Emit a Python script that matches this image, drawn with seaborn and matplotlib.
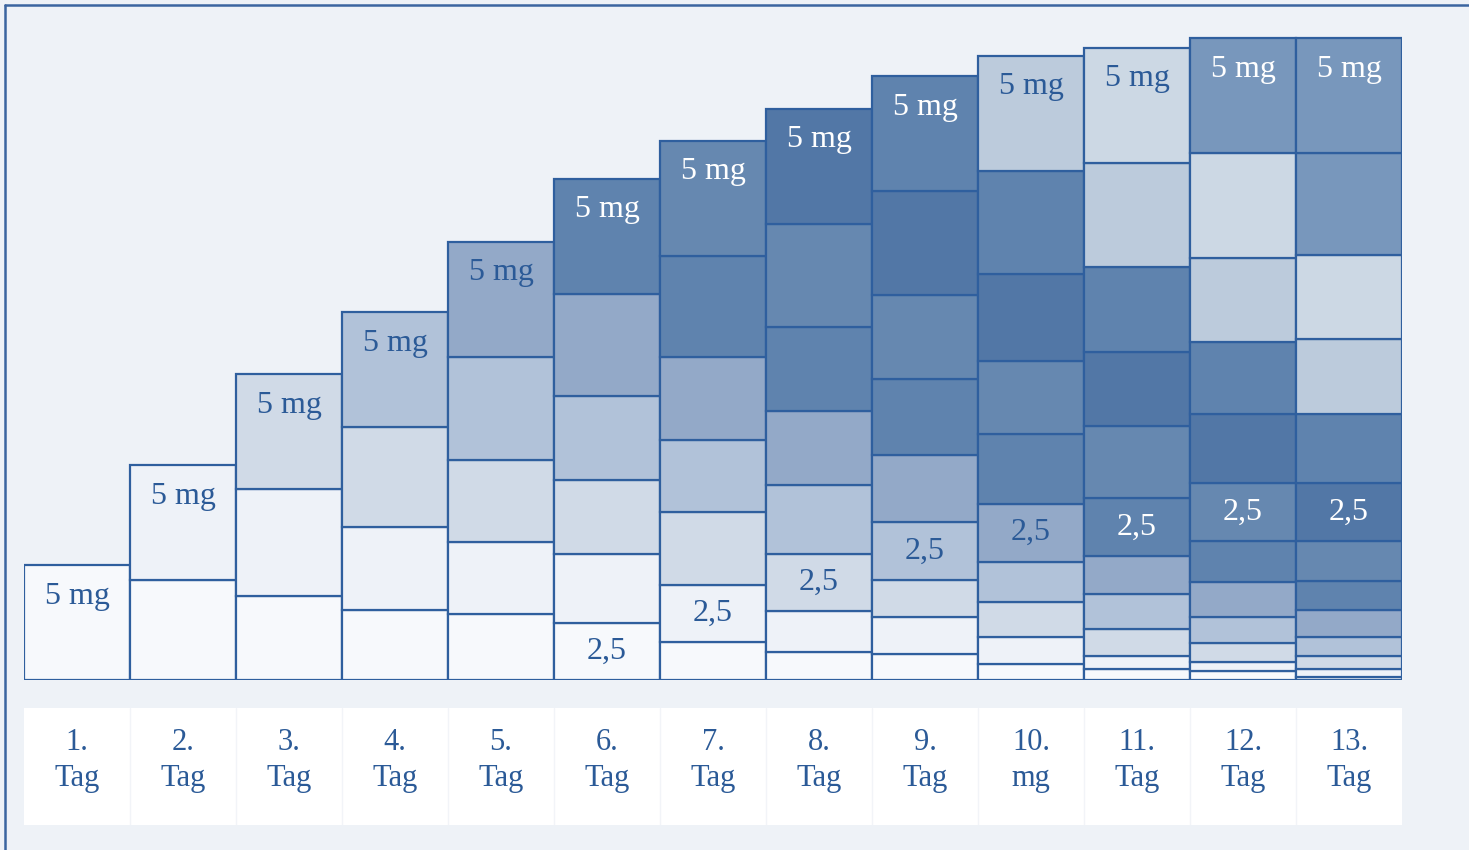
import numpy as np
import pandas as pd
import matplotlib
matplotlib.use("Agg")
import matplotlib.pyplot as plt
import seaborn as sns
from matplotlib.lines import Line2D

# Remaining amount (mg) of each daily 5 mg dose, per day; first entry = dose of day 1
tag_01 = [5.0]
tag_02 = [4.35, 5.0]
tag_03 = [3.65, 4.65, 5.0]
tag_04 = [3.05, 3.6, 4.35, 5.0]
tag_05 = [2.85, 3.15, 3.55, 4.5, 5.0]
tag_06 = [2.5, 3.0, 3.2, 3.65, 4.45, 5.0]
tag_07 = [1.65, 2.5, 3.15, 3.15, 3.6, 4.4, 5.0]
tag_08 = [1.2, 1.8, 2.5, 3.0, 3.2, 3.65, 4.5, 5.0]
tag_09 = [1.15, 1.6, 1.6, 2.5, 2.95, 3.3, 3.65, 4.5, 5.0]
tag_10 = [0.7, 1.15, 1.55, 1.75, 2.5, 3.05, 3.15, 3.8, 4.5, 5.0]
tag_11 = [0.5, 0.55, 1.15, 1.55, 1.65, 2.5, 3.15, 3.2, 3.7, 4.55, 5.0]
tag_12 = [0.4, 0.4, 0.8, 1.15, 1.5, 1.8, 2.5, 3.0, 3.15, 3.65, 4.55, 5.0]
tag_13 = [0.15, 0.35, 0.55, 0.8, 1.2, 1.25, 1.75, 2.5, 3.0, 3.3, 3.65, 4.4, 5.0]

day_labels = ["1.\nTag", "2.\nTag", "3.\nTag", "4.\nTag", "5.\nTag", "6.\nTag",
              "7.\nTag", "8.\nTag", "9.\nTag", "10.\nmg", "11.\nTag", "12.\nTag",
              "13.\nTag"]

# Fill colour of each dose (dose of day 1 ... day 13)
dose_colors = ["#f7f9fc", "#eef2f8", "#d0dae7", "#b1c2d9", "#93a9c8", "#5f83ae",
               "#6688b0", "#5277a6", "#5f83ae", "#bccbdc", "#ccd8e4", "#7897bc",
               "#7897bc"]

days = [tag_01, tag_02, tag_03, tag_04, tag_05, tag_06, tag_07,
        tag_08, tag_09, tag_10, tag_11, tag_12, tag_13]

BG = "#eef2f7"
EDGE = "#2f5f9e"
TEXT_DARK = "#2b5a97"

sns.set_style("white")
plt.rcParams["font.family"] = ["Liberation Serif", "DejaVu Serif"]

fig = plt.figure(figsize=(14.69, 8.5), dpi=100, facecolor=BG)
W, H = 1469, 850

def frac(x0, y0, x1, y1):
    return [x0 / W, 1 - y1 / H, (x1 - x0) / W, (y1 - y0) / H]

ax = fig.add_axes(frac(24, 20, 1402, 680))
ax.set_facecolor(BG)

# Long table: one row per (day, dose)
rows = []
for d_idx, vals in enumerate(days):
    bottom = 0.0
    for k, v in enumerate(vals):
        rows.append(dict(day=day_labels[d_idx], day_no=d_idx, dose=k, mg=v, bottom=bottom))
        bottom += v
df = pd.DataFrame(rows)

# One seaborn bar layer per dose, stacked on the previous doses
for k in range(len(days)):
    sub = df[df["dose"] == k].sort_values("day_no")
    sns.barplot(data=sub, x="day", y="mg", order=day_labels, color=dose_colors[k],
                saturation=1, width=1.0, errorbar=None, edgecolor=EDGE,
                linewidth=1.6, bottom=sub["bottom"].to_numpy(), ax=ax)

def text_color(hexcol):
    r, g, b = [int(hexcol[i:i + 2], 16) for i in (1, 3, 5)]
    lum = (0.299 * r + 0.587 * g + 0.114 * b) / 255
    return "white" if lum < 0.61 else TEXT_DARK

# Labels: newest dose on top of each day, and the dose that has fallen to 2.5 mg
for _, r in df.iterrows():
    n_doses = len(days[int(r["day_no"])])
    col = text_color(dose_colors[int(r["dose"])])
    if r["dose"] == n_doses - 1:
        top = r["bottom"] + r["mg"]
        ax.text(r["day_no"], top - 1.35, f"{r['mg']:g} mg", ha="center", va="center",
                fontsize=23, color=col)
    elif r["mg"] == 2.5 and r["day_no"] >= 5:
        ax.text(r["day_no"], r["bottom"] + r["mg"] / 2, f"{r['mg']:g}".replace(".", ","),
                ha="center", va="center", fontsize=23, color=col)

ax.set_xlim(-0.5, len(days) - 0.5)
ax.set_ylim(0, 28.7)
ax.set_xlabel("")
ax.set_ylabel("")
ax.set_xticks([])
ax.set_yticks([])
for s in ax.spines.values():
    s.set_visible(False)

# Day labels in a white band under the bars
tab = fig.add_axes(frac(24, 708, 1402, 825))
tab.set_facecolor("white")
tab.set_xlim(-0.5, len(days) - 0.5)
tab.set_ylim(0, 1)
for i, lab in enumerate(day_labels):
    tab.text(i, 0.55, lab, ha="center", va="center", fontsize=22,
             color=TEXT_DARK, linespacing=1.33)
for i in range(1, len(days)):
    tab.axvline(i - 0.5, color="#f2f4f8", lw=1)
tab.set_xticks([])
tab.set_yticks([])
for s in tab.spines.values():
    s.set_visible(False)

# Frame lines along the top and left edge
fig.add_artist(Line2D([5 / W, 1], [1 - 5 / H, 1 - 5 / H], color="#3b65a0", lw=1.8,
                      transform=fig.transFigure))
fig.add_artist(Line2D([5 / W, 5 / W], [0, 1 - 5 / H], color="#3b65a0", lw=1.8,
                      transform=fig.transFigure))

fig.savefig("out.png", dpi=100, facecolor=BG)
